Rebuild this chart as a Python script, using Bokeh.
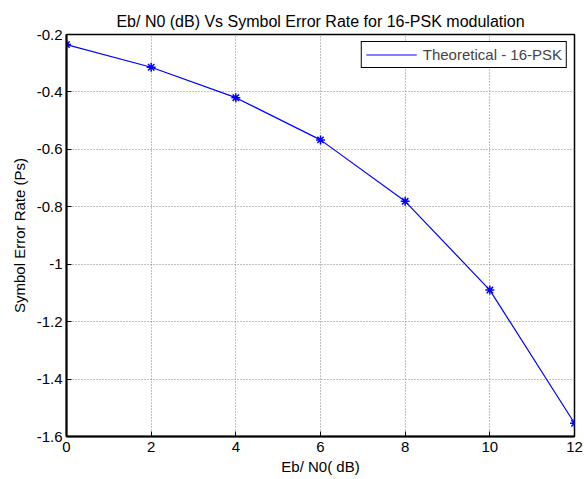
from bokeh.plotting import figure
from bokeh.models import FixedTicker, CustomJSTickFormatter, Range1d, Legend, LegendItem
from bokeh.embed import file_html
from bokeh.resources import INLINE

ebn0_db = [0, 2, 4, 6, 8, 10, 12]
ser_theory = [-0.235, -0.314, -0.420, -0.567, -0.781, -1.090, -1.554]
x_ticks = [0, 2, 4, 6, 8, 10, 12]
y_ticks = [-1.6, -1.4, -1.2, -1.0, -0.8, -0.6, -0.4, -0.2]

FONT = "Liberation Sans"

p = figure(width=584, height=479, output_backend="svg", toolbar_location=None,
           x_range=Range1d(0, 12), y_range=Range1d(-1.6, -0.2),
           min_border_left=66, min_border_right=10, min_border_top=34, min_border_bottom=43,
           background_fill_color="white", border_fill_color="white")

p.title.text = "Eb/ N0 (dB) Vs Symbol Error Rate for 16-PSK modulation"
p.title.align = "center"
p.title.text_font = FONT
p.title.text_font_size = "16px"
p.title.text_font_style = "normal"
p.title.text_color = "black"

p.outline_line_color = "black"
p.outline_line_width = 1.5

fmt = CustomJSTickFormatter(code="var s = tick.toFixed(1); return s.replace(/\\.0$/, '');")

p.xaxis.ticker = FixedTicker(ticks=x_ticks)
p.xaxis.axis_label = "Eb/ N0( dB)"
p.yaxis.ticker = FixedTicker(ticks=y_ticks)
p.yaxis.formatter = fmt
p.yaxis.axis_label = "Symbol Error Rate (Ps)"

for ax in list(p.xaxis) + list(p.yaxis):
    ax.major_tick_in = 5
    ax.major_tick_out = 0
    ax.minor_tick_line_color = None
    ax.axis_line_color = "#000000"
    ax.axis_line_width = 2
    ax.major_tick_line_color = "#000000"
    ax.major_label_text_font = FONT
    ax.major_label_text_font_size = "15px"
    ax.major_label_text_color = "black"
    ax.axis_label_text_font = FONT
    ax.axis_label_text_font_size = "15px"
    ax.axis_label_text_font_style = "normal"
    ax.axis_label_text_color = "black"
p.xaxis.major_label_standoff = 5
p.yaxis.major_label_standoff = 4
p.xaxis.axis_label_standoff = 3
p.yaxis.axis_label_standoff = 6

# grid only on interior ticks so it does not cover the black box
p.xgrid.ticker = FixedTicker(ticks=x_ticks[1:-1])
p.ygrid.ticker = FixedTicker(ticks=y_ticks[1:-1])
p.grid.grid_line_color = "#808080"
p.grid.grid_line_dash = "1 2"
p.grid.grid_line_width = 1
p.grid.grid_line_alpha = 1.0

ln = p.line(ebn0_db, ser_theory, line_color="#0000ff", line_width=1.2)
p.scatter(ebn0_db, ser_theory, marker="asterisk", size=9, line_color="#0000ff", line_width=1.5)

legend = Legend(items=[LegendItem(label="Theoretical - 16-PSK", renderers=[ln])],
                location="top_right", margin=7, padding=4, spacing=0,
                glyph_width=51, glyph_height=17, label_height=17, label_standoff=6,
                label_text_font=FONT, label_text_font_size="15px",
                border_line_color="black", border_line_width=1, border_line_alpha=1.0,
                background_fill_color="white", background_fill_alpha=1.0)
p.add_layout(legend, "center")

open("out.html", "w").write(file_html(p, INLINE))
